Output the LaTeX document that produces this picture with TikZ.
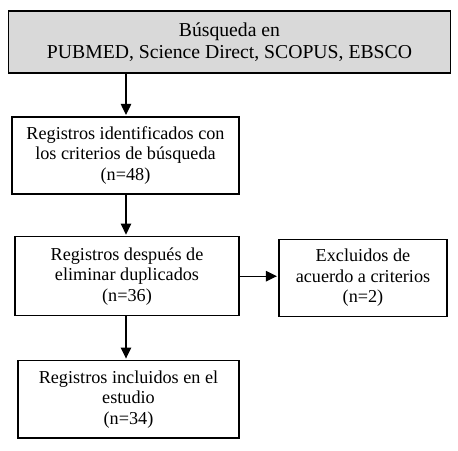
\documentclass[tikz,border=0pt]{standalone}
\usepackage{fontspec}
\setmainfont{Liberation Serif}
\usetikzlibrary{arrows.meta}
\tikzset{
  box/.style={draw=black, line width=1.2pt, rectangle, align=center, inner sep=2pt,
    font=\fontsize{18.2}{20.5}\selectfont},
  topbox/.style={box, fill=black!15, font=\fontsize{19.7}{22.6}\selectfont},
  arr/.style={draw=black, line width=1.2pt, -{Triangle[length=11pt,width=10.5pt]}, shorten >=1.5pt}
}
\begin{document}
\begin{tikzpicture}[x=1pt,y=-1pt]
\useasboundingbox (0,0) rectangle (458,450);
\node[topbox, minimum width=442.4pt, minimum height=62pt] (b1) at (229.5,42)
  {Búsqueda en\\PUBMED, Science Direct, SCOPUS, EBSCO};
\node[box, minimum width=227pt, minimum height=77pt] (b2) at (125.5,155.5)
  {Registros identificados con\\los criterios de búsqueda\\(n=48)};
\node[box, minimum width=224pt, minimum height=79pt] (b3) at (127,276.2)
  {Registros después de\\eliminar duplicados\\(n=36)};
\node[box, minimum width=168pt, minimum height=77.4pt] (b4) at (363,278)
  {Excluidos de\\acuerdo a criterios\\(n=2)};
\node[box, minimum width=221pt, minimum height=77.3pt] (b5) at (128.5,399.3)
  {Registros incluidos en el\\estudio\\(n=34)};
\coordinate (ax) at (126,0);
\draw[arr] (b1.south -| ax) -- (b2.north -| ax);
\draw[arr] (b2.south -| ax) -- (b3.north -| ax);
\draw[arr] (b3.south -| ax) -- (b5.north -| ax);
\draw[arr] (b3.east) -- (b3.east -| b4.west);
\end{tikzpicture}
\end{document}
